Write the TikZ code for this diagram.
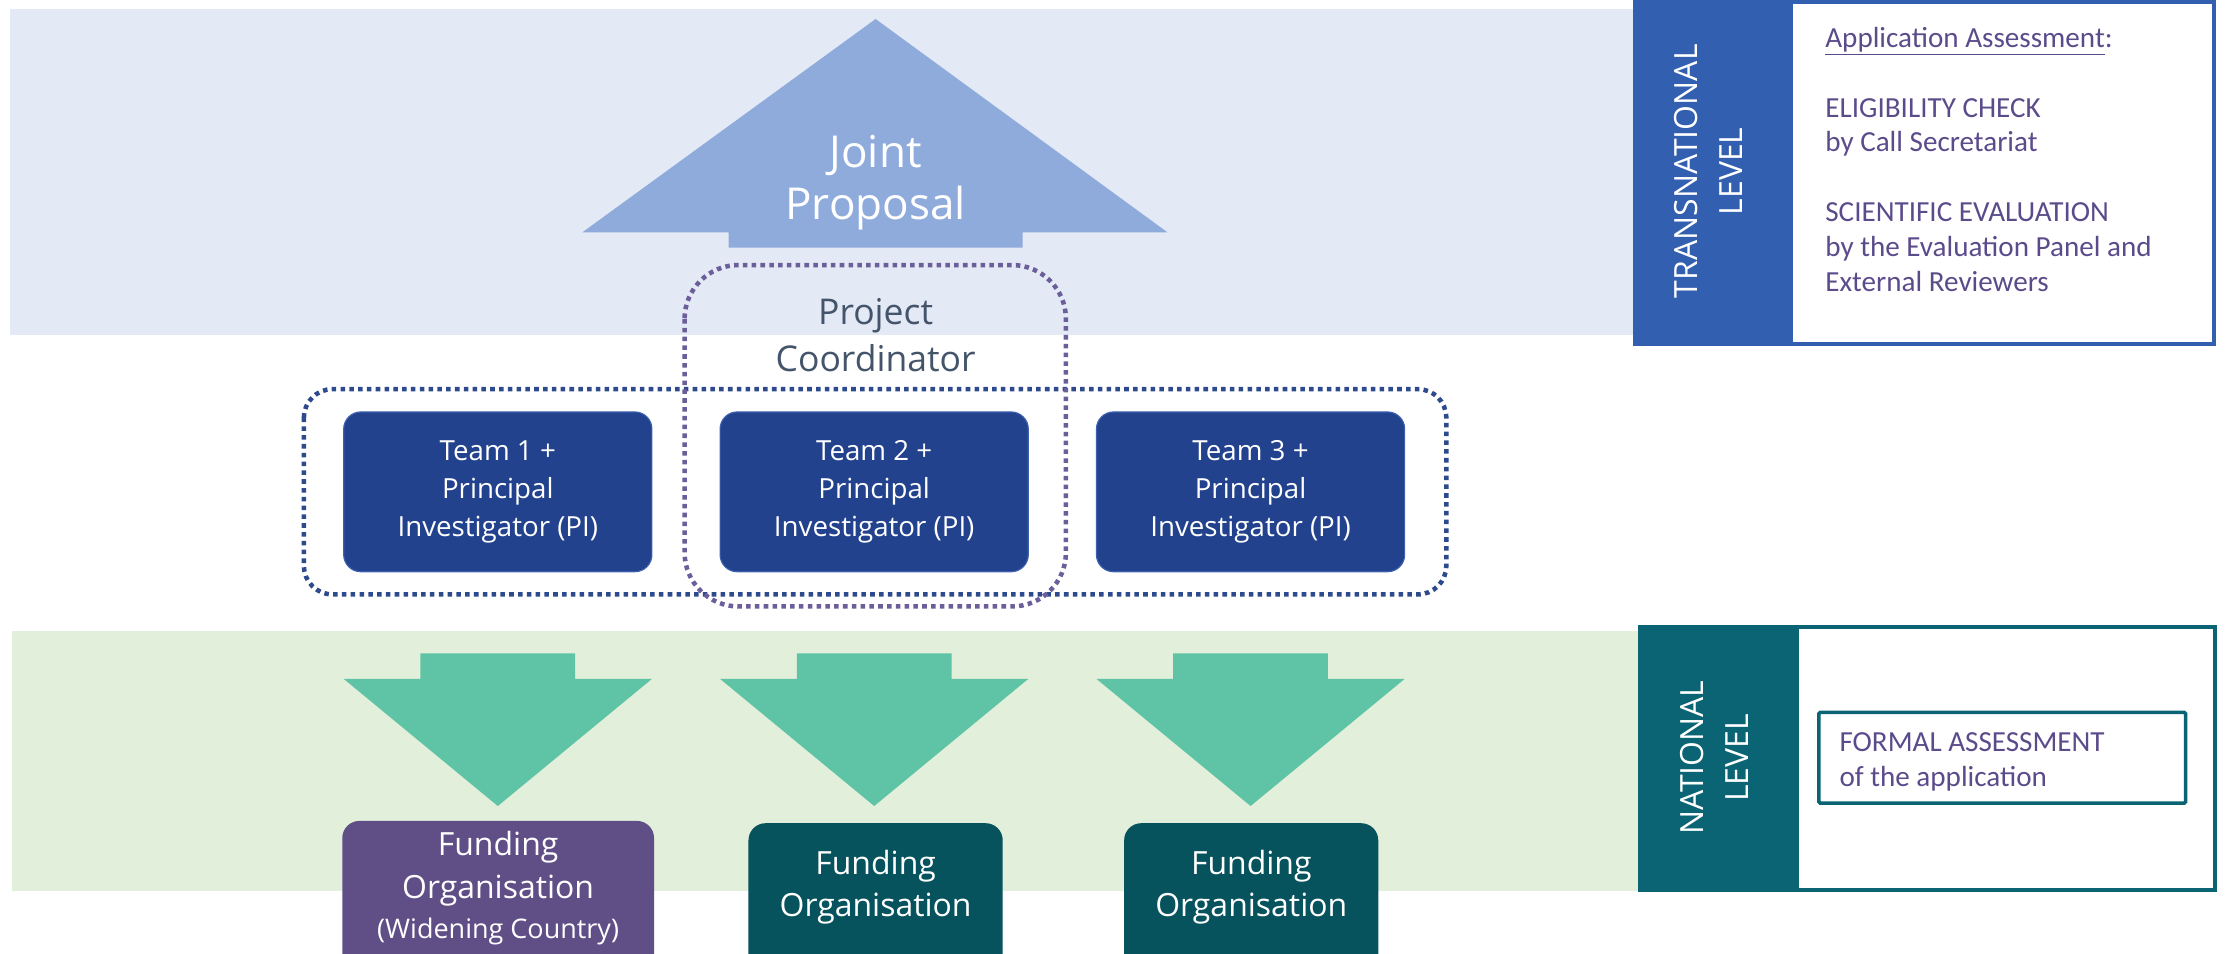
\documentclass[tikz,border=0pt]{standalone}
\usepackage{fontspec}
\setmainfont{Open Sans}
\newfontfamily\calfont{Carlito}
\usetikzlibrary{calc}
\definecolor{bandblue}{HTML}{E3EAF6}
\definecolor{arrowblue}{HTML}{8FABDC}
\definecolor{teamblue}{HTML}{22428E}
\definecolor{teamedge}{HTML}{3D61B0}
\definecolor{dotnavy}{HTML}{2C4A8C}
\definecolor{dotpurple}{HTML}{6B5E9B}
\definecolor{coordgray}{HTML}{44546A}
\definecolor{bandgreen}{HTML}{E2EFDA}
\definecolor{arrowgreen}{HTML}{5EC4A5}
\definecolor{fopurple}{HTML}{604F87}
\definecolor{foteal}{HTML}{06525D}
\definecolor{transblue}{HTML}{325FAF}
\definecolor{natteal}{HTML}{0A6473}
\definecolor{textpurple}{HTML}{5B4B8B}
\tikzset{
  dotline/.style={line width=3.2pt, dash pattern=on 3.2pt off 3pt},
  teambox/.style={fill=teamblue, draw=teamedge, line width=0.8pt, rounded corners=12pt,
     minimum width=217pt, minimum height=112.5pt, inner sep=0pt, align=center, text=white,
     font=\fontsize{19.5}{27}\selectfont},
  fotext/.style={align=center, text=white, font=\fontsize{22.5}{30}\selectfont, inner sep=0pt},
  leveltext/.style={rotate=90, align=center, text=white, font=\fontsize{22.5}{31.6}\selectfont, inner sep=0pt},
  paneltext/.style={text=textpurple, align=left, font=\calfont\fontsize{20.5}{24.5}\selectfont, inner sep=0pt},
}
\begin{document}
\begin{tikzpicture}[x=1pt,y=-1pt]
\useasboundingbox (0,0) rectangle (1568,671);
% bands
\fill[bandblue] (7,6) rectangle (1152,236);
\fill[bandgreen] (8.5,444.5) rectangle (1155,627.5);
% joint proposal arrow
\fill[arrowblue] (616.5,13.4) -- (822,163.6) -- (720,163.6) -- (720,174.4) -- (513,174.4) -- (513,163.6) -- (410,163.6) -- cycle;
\node[text=white, align=center, font=\fontsize{31}{36.5}\selectfont, inner sep=0pt] (joint) at (616.5,128.5) {Joint\\Proposal};
% down arrows
\foreach \cx in {350.5,615.5,880.5}{
  \fill[arrowgreen] (\cx-54.5,460) -- (\cx+54.5,460) -- (\cx+54.5,478) -- (\cx+108.5,478) -- (\cx,567.5) -- (\cx-108.5,478) -- (\cx-54.5,478) -- cycle;
}
% team boxes
\node[teambox] (t1) at (350.5,346.3) {Team 1 +\\Principal\\Investigator (PI)};
\node[teambox] (t2) at (615.5,346.3) {Team 2 +\\Principal\\Investigator (PI)};
\node[teambox] (t3) at (880.5,346.3) {Team 3 +\\Principal\\Investigator (PI)};
% dotted groups
\draw[dotline, dotnavy, rounded corners=20pt] (214,274) rectangle (1018.3,418.5);
\draw[dotline, dotpurple, rounded corners=38pt] (482,186.6) rectangle (750.5,427);
\node[text=coordgray, align=center, font=\fontsize{25}{33}\selectfont, inner sep=0pt] (coord) at (616.5,236) {Project\\Coordinator};
% funding organisations
\fill[fopurple, rounded corners=12pt] (241,578) rectangle (460.5,700);
\fill[foteal, rounded corners=12pt] (527,579.6) rectangle (706,700);
\fill[foteal, rounded corners=12pt] (791.5,579.6) rectangle (970.4,700);
\node[fotext] (fo1) at (350.7,611.5) {Funding\\Organisation};
\node[text=white, font=\fontsize{19}{22}\selectfont, inner sep=0pt] (fo1b) at (350.7,656) {(Widening Country)};
\node[fotext] (fo2) at (616.5,624.7) {Funding\\Organisation};
\node[fotext] (fo3) at (881,624.7) {Funding\\Organisation};
% transnational panel
\fill[transblue] (1150,0) rectangle (1262,243.5);
\draw[transblue, line width=2.7pt] (1261,1.3) rectangle (1558.7,242.2);
\node[leveltext] (trans) at (1202.8,120.6) {TRANSNATIONAL\\LEVEL};
\node[paneltext, anchor=north west] (assess) at (1285,19) {\underline{Application Assessment}:\\[24.5pt]ELIGIBILITY CHECK\\by Call Secretariat\\[24.5pt]SCIENTIFIC EVALUATION\\by the Evaluation Panel and\\External Reviewers};
% national panel
\fill[natteal] (1153,440) rectangle (1266,628);
\draw[natteal, line width=2.7pt] (1265,441.3) rectangle (1559.7,626.7);
\node[leveltext] (nat) at (1207,533.5) {NATIONAL\\LEVEL};
\draw[natteal, line width=2.5pt, rounded corners=1pt] (1280.6,501.5) rectangle (1538.8,565.5);
\node[paneltext, anchor=west] (formal) at (1295,536.5) {FORMAL ASSESSMENT\\of the application};
\end{tikzpicture}
\end{document}
